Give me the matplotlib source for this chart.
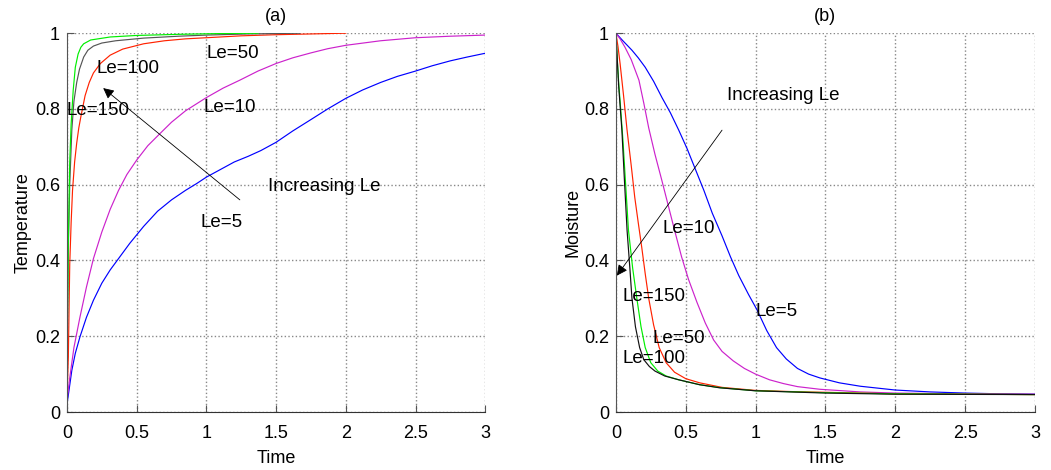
import numpy as np
import matplotlib
matplotlib.use("Agg")
import matplotlib.pyplot as plt

plt.rcParams['font.family'] = ['Liberation Sans', 'DejaVu Sans']

# (a) Temperature curves
t_T5 = [0, 0.01, 0.035, 0.06, 0.093, 0.14, 0.19, 0.25, 0.31, 0.38, 0.45, 0.55, 0.65, 0.75, 0.85, 0.93,
        1.0, 1.1, 1.2, 1.3, 1.39, 1.5, 1.62, 1.75, 1.87, 2.0, 2.12, 2.25, 2.37, 2.5, 2.62, 2.75, 2.87, 3.0]
T5 = [0.02, 0.045, 0.11, 0.155, 0.198, 0.25, 0.295, 0.34, 0.375, 0.41, 0.445, 0.49, 0.53, 0.56, 0.585, 0.603,
      0.62, 0.64, 0.66, 0.675, 0.69, 0.712, 0.742, 0.772, 0.8, 0.828, 0.85, 0.87, 0.886, 0.90, 0.914, 0.927, 0.937, 0.947]
t_T10 = [0, 0.02, 0.05, 0.093, 0.14, 0.19, 0.25, 0.31, 0.37, 0.43, 0.5, 0.58, 0.67, 0.75, 0.85, 1.0, 1.12,
         1.24, 1.37, 1.5, 1.62, 1.75, 1.87, 2.0, 2.25, 2.5, 2.75, 3.0]
T10 = [0.03, 0.09, 0.17, 0.25, 0.33, 0.405, 0.475, 0.535, 0.585, 0.627, 0.665, 0.703, 0.736, 0.765, 0.795, 0.83, 0.855,
       0.876, 0.9, 0.92, 0.935, 0.948, 0.959, 0.968, 0.98, 0.988, 0.992, 0.995]
t_T50 = [0, 0.005, 0.01, 0.015, 0.02, 0.03, 0.04, 0.055, 0.07, 0.085, 0.1, 0.13, 0.16, 0.19, 0.24, 0.31,
         0.4, 0.55, 0.7, 0.85, 1.0, 1.25, 1.5, 1.75, 2.0]
T50 = [0.05, 0.09, 0.145, 0.27, 0.39, 0.5, 0.585, 0.66, 0.71, 0.75, 0.78, 0.835, 0.87, 0.895, 0.92, 0.942,
       0.958, 0.972, 0.98, 0.985, 0.988, 0.993, 0.996, 0.998, 1.0]
t_T100 = [0, 0.005, 0.01, 0.02, 0.035, 0.05, 0.07, 0.09, 0.12, 0.15, 0.19, 0.25, 0.35, 0.55, 0.8, 1.0, 1.3, 1.67]
T100 = [0.1, 0.25, 0.435, 0.6, 0.745, 0.82, 0.87, 0.905, 0.937, 0.955, 0.966, 0.974, 0.98, 0.987, 0.992, 0.995, 0.998, 1.0]
t_T150 = [0, 0.005, 0.01, 0.02, 0.03, 0.045, 0.06, 0.08, 0.1, 0.12, 0.17, 0.31, 0.5, 0.8, 1.1, 1.37]
T150 = [0.12, 0.3, 0.45, 0.66, 0.76, 0.85, 0.91, 0.945, 0.963, 0.972, 0.982, 0.99, 0.994, 0.997, 0.999, 1.0]

# (b) Moisture curves
t_M5 = [0, 0.05, 0.115, 0.16, 0.21, 0.27, 0.33, 0.39, 0.45, 0.51, 0.57, 0.63, 0.69, 0.76, 0.82, 0.88, 0.95,
        1.01, 1.08, 1.15, 1.22, 1.3, 1.38, 1.46, 1.6, 1.75, 2.0, 2.25, 2.5, 2.75, 3.0]
M5 = [1.0, 0.98, 0.955, 0.935, 0.91, 0.873, 0.83, 0.79, 0.744, 0.695, 0.64, 0.585, 0.525, 0.465, 0.41, 0.36, 0.31,
      0.27, 0.215, 0.17, 0.14, 0.115, 0.1, 0.09, 0.077, 0.068, 0.058, 0.053, 0.05, 0.048, 0.047]
t_M10 = [0, 0.03, 0.065, 0.11, 0.165, 0.2, 0.235, 0.28, 0.33, 0.375, 0.42, 0.47, 0.52, 0.58, 0.64, 0.7, 0.76,
         0.84, 0.92, 1.0, 1.1, 1.2, 1.3, 1.46, 1.75, 2.0, 2.5, 3.0]
M10 = [1.0, 0.985, 0.963, 0.93, 0.876, 0.815, 0.75, 0.68, 0.61, 0.545, 0.48, 0.41, 0.35, 0.29, 0.235, 0.19, 0.16,
       0.135, 0.115, 0.10, 0.085, 0.075, 0.067, 0.06, 0.053, 0.05, 0.048, 0.047]
t_M50 = [0, 0.015, 0.03, 0.055, 0.08, 0.11, 0.135, 0.16, 0.185, 0.21, 0.235, 0.27, 0.31, 0.36, 0.42, 0.5,
         0.6, 0.76, 1.0, 1.25, 1.5, 2.0, 3.0]
M50 = [1.0, 0.965, 0.92, 0.835, 0.744, 0.65, 0.567, 0.5, 0.435, 0.365, 0.30, 0.23, 0.17, 0.13, 0.105, 0.088,
       0.077, 0.065, 0.057, 0.054, 0.052, 0.048, 0.046]
t_M100 = [0, 0.01, 0.02, 0.043, 0.06, 0.08, 0.1, 0.115, 0.14, 0.17, 0.2, 0.24, 0.28, 0.35, 0.45, 0.6, 0.74,
          1.0, 1.5, 2.0, 3.0]
M100 = [1.0, 0.93, 0.86, 0.744, 0.62, 0.48, 0.38, 0.30, 0.225, 0.17, 0.138, 0.12, 0.108, 0.095, 0.085, 0.072, 0.064,
        0.056, 0.05, 0.047, 0.046]
t_M150 = [0, 0.01, 0.02, 0.05, 0.07, 0.09, 0.12, 0.15, 0.18, 0.21, 0.25, 0.3, 0.36, 0.45, 0.6, 0.75, 1.0,
          1.5, 2.0, 3.0]
M150 = [1.0, 0.93, 0.87, 0.72, 0.6, 0.48, 0.38, 0.30, 0.225, 0.17, 0.13, 0.108, 0.095, 0.085, 0.072, 0.064, 0.056,
        0.051, 0.048, 0.046]

xticks = [0, 0.5, 1, 1.5, 2, 2.5, 3]
xticklabels = ['0', '0.5', '1', '1.5', '2', '2.5', '3']
yticks = [0, 0.2, 0.4, 0.6, 0.8, 1]
yticklabels = ['0', '0.2', '0.4', '0.6', '0.8', '1']

fig = plt.figure(figsize=(10.51, 4.70), dpi=100)
ax1 = fig.add_axes([0.0637, 0.1234, 0.398, 0.806])
ax2 = fig.add_axes([0.586, 0.1234, 0.3987, 0.806])

lw = 0.85
ax1.plot(t_T5, T5, color='#0000ff', lw=lw)
ax1.plot(t_T10, T10, color='#cc22cc', lw=lw)
ax1.plot(t_T50, T50, color='#ff2200', lw=lw)
ax1.plot(t_T100, T100, color='#555555', lw=lw)
ax1.plot(t_T150, T150, color='#00ee00', lw=lw)

ax2.plot(t_M5, M5, color='#0000ff', lw=lw)
ax2.plot(t_M10, M10, color='#cc22cc', lw=lw)
ax2.plot(t_M50, M50, color='#ff2200', lw=lw)
ax2.plot(t_M150, M150, color='#00ee00', lw=lw)
ax2.plot(t_M100, M100, color='#111111', lw=lw)

fs = 13.5
for ax, title, ylab in [(ax1, '(a)', 'Temperature'), (ax2, '(b)', 'Moisture')]:
    ax.set_xlim(0, 3)
    ax.set_ylim(0, 1)
    ax.set_xticks(xticks)
    ax.set_xticklabels(xticklabels)
    ax.set_yticks(yticks)
    ax.set_yticklabels(yticklabels)
    ax.tick_params(direction='in', length=5, labelsize=13, color='#555555')
    ax.tick_params(axis='x', pad=9)
    ax.tick_params(axis='y', pad=5)
    ax.grid(True, linestyle=':', color='#888888', lw=1)
    ax.spines['top'].set_visible(False)
    ax.spines['right'].set_visible(False)
    ax.spines['left'].set_color('#555555')
    ax.spines['bottom'].set_color('#333333')
    ax.set_title(title, fontsize=13, pad=9)
    ax.set_xlabel('Time', fontsize=13, labelpad=6)
    ax.set_ylabel(ylab, fontsize=13, labelpad=2)

arrow = dict(arrowstyle='-|>', color='k', lw=0.6, mutation_scale=16, shrinkA=0, shrinkB=0)

ax1.text(1.0, 0.947, 'Le=50', fontsize=fs, va='center')
ax1.text(0.215, 0.908, 'Le=100', fontsize=fs, va='center')
ax1.text(0.0, 0.797, 'Le=150', fontsize=fs, va='center')
ax1.text(0.98, 0.805, 'Le=10', fontsize=fs, va='center')
ax1.text(1.44, 0.594, 'Increasing Le', fontsize=fs, va='center')
ax1.text(0.955, 0.50, 'Le=5', fontsize=fs, va='center')
ax1.annotate('', xy=(0.26, 0.855), xytext=(1.24, 0.56), arrowprops=arrow)

ax2.text(0.795, 0.836, 'Increasing Le', fontsize=fs, va='center')
ax2.text(0.337, 0.485, 'Le=10', fontsize=fs, va='center')
ax2.text(0.996, 0.264, 'Le=5', fontsize=fs, va='center')
ax2.text(0.05, 0.306, 'Le=150', fontsize=fs, va='center')
ax2.text(0.265, 0.195, 'Le=50', fontsize=fs, va='center')
ax2.text(0.05, 0.142, 'Le=100', fontsize=fs, va='center')
ax2.annotate('', xy=(0.007, 0.36), xytext=(0.76, 0.744), arrowprops=arrow)

fig.savefig('out.png', dpi=100)
